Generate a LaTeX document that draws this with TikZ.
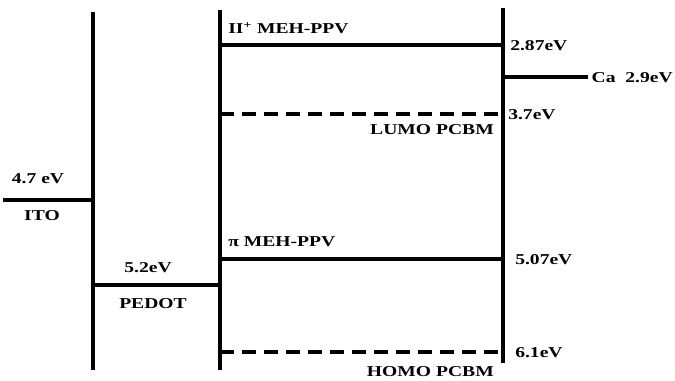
\documentclass[tikz,border=0pt]{standalone}
\usepackage{fontspec}
\setmainfont{Liberation Serif}
\newcommand{\sx}[1]{\scalebox{1.3}[1]{#1}}
\begin{document}
\begin{tikzpicture}[x=0.75pt,y=-0.75pt,
  lvl/.style={line width=2.4pt},
  vbar/.style={line width=3pt},
  dlvl/.style={line width=2.4pt,dash pattern=on 10.5pt off 6pt},
  lbl/.style={font=\fontsize{11.3}{13}\selectfont\bfseries,inner sep=0pt}]
\useasboundingbox (0,0) rectangle (675,380);
% vertical bars
\coordinate (v1t) at (93,12);  \coordinate (v1b) at (93,370);
\coordinate (v2t) at (220,10); \coordinate (v2b) at (220,370);
\coordinate (v3t) at (503,8);  \coordinate (v3b) at (503,363);
\draw[vbar] (v1t) -- (v1b);
\draw[vbar] (v2t) -- (v2b);
\draw[vbar] (v3t) -- (v3b);
% levels
\coordinate (itoL) at (3,200);   \coordinate (itoR) at (93,200);
\coordinate (pedL) at (93,285);  \coordinate (pedR) at (220,285);
\coordinate (lumL) at (220,45);  \coordinate (lumR) at (503,45);
\coordinate (caL) at (503,77);   \coordinate (caR) at (588,77);
\coordinate (pcL) at (220,114);  \coordinate (pcR) at (503,114);
\coordinate (homL) at (220,259); \coordinate (homR) at (503,259);
\coordinate (phL) at (220,352);  \coordinate (phR) at (503,352);
\draw[lvl] (itoL) -- (itoR);
\draw[lvl] (pedL) -- (pedR);
\draw[lvl] (lumL) -- (lumR);
\draw[lvl] (caL) -- (caR);
\draw[dlvl] (pcL) -- (pcR);
\draw[lvl] (homL) -- (homR);
\draw[dlvl] (phL) -- (phR);
% labels
\node[lbl] (t47) at (38,179) {\sx{4.7 eV}};
\node[lbl] (tito) at (42,216) {\sx{ITO}};
\node[lbl] (t52) at (148,268) {\sx{5.2eV}};
\node[lbl] (tped) at (153,304) {\sx{PEDOT}};
\node[lbl,anchor=west] (tpis) at (228,28) {\sx{II\textsuperscript{+} MEH-PPV}};
\node[lbl,anchor=west] (t287) at (510,46) {\sx{2.87eV}};
\node[lbl,anchor=east] (tca) at (673,78) {\sx{Ca\ \ 2.9eV}};
\node[lbl,anchor=west] (t37) at (508,115) {\sx{3.7eV}};
\node[lbl,anchor=east] (tlumo) at (494,130) {\sx{LUMO PCBM}};
\node[lbl,anchor=west] (tpi) at (228,242) {\sx{π MEH-PPV}};
\node[lbl,anchor=west] (t507) at (515,260) {\sx{5.07eV}};
\node[lbl,anchor=west] (t61) at (515,353) {\sx{6.1eV}};
\node[lbl,anchor=east] (thomo) at (494,372) {\sx{HOMO PCBM}};
\end{tikzpicture}
\end{document}
